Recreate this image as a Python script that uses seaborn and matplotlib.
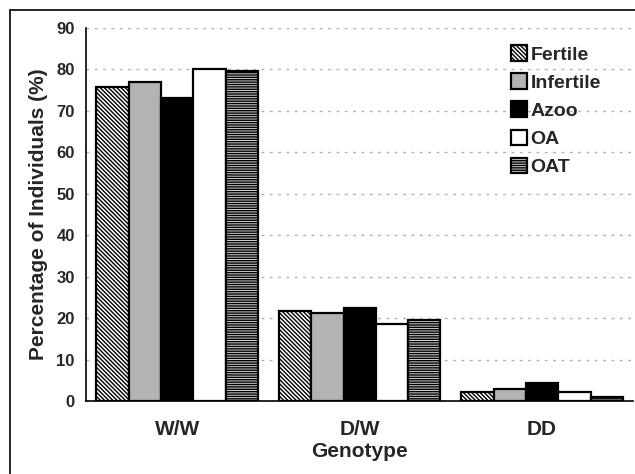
import matplotlib
matplotlib.use("Agg")
import matplotlib.pyplot as plt
import seaborn as sns
import pandas as pd
from matplotlib.patches import Rectangle

genotypes = ["W/W", "D/W", "DD"]
groups = ["Fertile", "Infertile", "Azoo", "OA", "OAT"]
fertile = [75.7, 21.8, 2.2]
infertile = [76.9, 21.2, 2.9]
azoo = [73.1, 22.5, 4.3]
oa = [80.1, 18.6, 2.2]
oat = [79.7, 19.6, 1.0]

# bar styles per group: facecolor, hatch
styles = {
    "Fertile": ("white", "\\" * 8),
    "Infertile": ("#b3b3b3", None),
    "Azoo": ("black", None),
    "OA": ("white", None),
    "OAT": ("#d0d0d0", "-" * 7),
}

rows = []
for name, vals in zip(groups, [fertile, infertile, azoo, oa, oat]):
    for g, v in zip(genotypes, vals):
        rows.append({"Genotype": g, "Group": name, "Pct": v})
df = pd.DataFrame(rows)

sns.set_style("white")
plt.rcParams["font.family"] = ["Liberation Sans", "DejaVu Sans"]
plt.rcParams["font.weight"] = "bold"
plt.rcParams["hatch.linewidth"] = 1.0

fig = plt.figure(figsize=(6.35, 4.74), dpi=100)
ax = fig.add_axes([0.1354, 0.154, 0.862, 0.787])

sns.barplot(data=df, x="Genotype", y="Pct", hue="Group", hue_order=groups,
            order=genotypes, width=0.885, gap=0, legend=False, ax=ax)

for cont, name in zip(ax.containers, groups):
    fc, hatch = styles[name]
    for p in cont.patches:
        p.set_facecolor(fc)
        p.set_edgecolor("black")
        p.set_linewidth(1.6)
        if hatch:
            p.set_hatch(hatch)

ax.set_ylim(0, 90)
ax.set_xlim(-0.5, 2.5)
ax.set_yticks(range(0, 91, 10))
ax.yaxis.grid(True, linestyle=(0, (2, 4)), color="#b0b0b0", linewidth=1)
ax.set_axisbelow(True)

ax.set_xticks([0, 1, 2])
ax.set_xticklabels(genotypes, fontsize=15, fontweight="bold")
ax.set_xticks([0.5, 1.5, 2.5], minor=True)
ax.tick_params(axis="x", which="major", length=0, pad=14)
ax.tick_params(axis="x", which="minor", length=5, width=1, color="black", direction="out")
ax.tick_params(axis="y", length=5, width=1, color="black", direction="out", labelsize=12, pad=3)
for t in ax.get_yticklabels():
    t.set_fontweight("bold")

for s in ["top", "right"]:
    ax.spines[s].set_visible(False)
for s in ["left", "bottom"]:
    ax.spines[s].set_color("black")
    ax.spines[s].set_linewidth(1.2)

ax.set_xlabel("Genotype", fontsize=15, fontweight="bold", labelpad=2)
ax.set_ylabel("Percentage of Individuals (%)", fontsize=15, fontweight="bold", labelpad=6)

ax.legend(handles=list(ax.containers), labels=groups, loc="upper left",
          bbox_to_anchor=(0.762, 0.975), frameon=False, fontsize=14,
          handlelength=0.85, handleheight=0.85, handletextpad=0.15,
          labelspacing=0.5, borderaxespad=0)

fig.patches.append(Rectangle((10 / 635, -0.2), 1.2, 1.2 - 10 / 474,
                             transform=fig.transFigure, fill=False,
                             edgecolor="black", linewidth=1.2))

fig.savefig("out.png", dpi=100)
